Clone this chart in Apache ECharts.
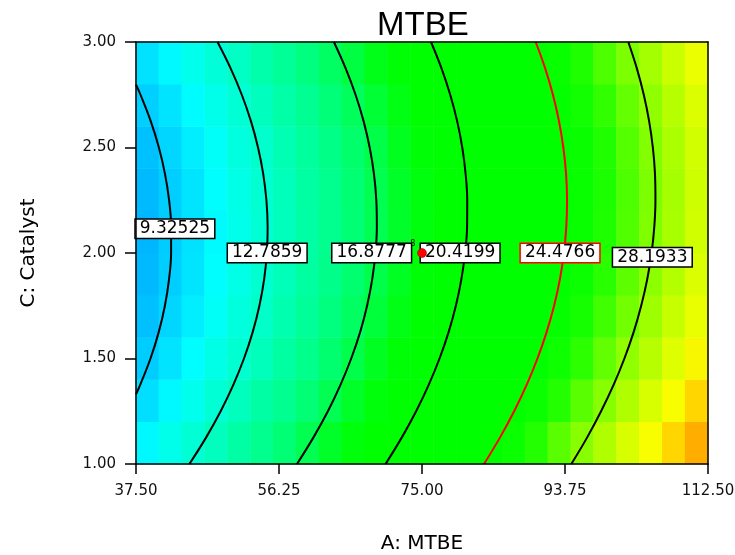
<!DOCTYPE html>
<html><head><meta charset="utf-8">
<script src="https://cdn.jsdelivr.net/npm/echarts@6/dist/echarts.min.js"></script>
<style>html,body{margin:0;padding:0;background:#fff}#c{width:735px;height:555px}</style>
</head><body><div id="c"></div>
<script>
// ---- data ----
const chartTitle = 'MTBE';
const xName = 'A: MTBE';
const yName = 'C: Catalyst';
const xTicks = [37.5, 56.25, 75, 93.75, 112.5];
const xTickLabels = ['37.50', '56.25', '75.00', '93.75', '112.50'];
const yTicks = [1, 1.5, 2, 2.5, 3];
const yTickLabels = ['1.00', '1.50', '2.00', '2.50', '3.00'];

// colour field: cell centres (A, C) and estimated response in each cell
const cellA = [39,42,45,48,51,54,57,60,63,66,69,72,75,78,81,84,87,90,93,96,99,102,105,108,111];
const cellC = [1.1,1.3,1.5,1.7,1.9,2.1,2.3,2.5,2.7,2.9];
const responseGrid = [
 [10.80,11.63,12.46,13.31,14.16,15.02,15.89,16.77,17.66,18.56,19.46,20.38,21.30,22.23,23.17,24.12,25.08,26.05,27.03,28.01,29.01,30.01,31.02,32.04,33.07],
 [9.97,10.78,11.61,12.45,13.29,14.15,15.01,15.88,16.76,17.65,18.55,19.45,20.37,21.29,22.23,23.17,24.12,25.08,26.05,27.03,28.01,29.01,30.01,31.02,32.05],
 [9.31,10.12,10.94,11.77,12.61,13.45,14.31,15.17,16.04,16.92,17.81,18.71,19.62,20.54,21.46,22.40,23.34,24.29,25.25,26.22,27.20,28.19,29.18,30.19,31.20],
 [8.85,9.65,10.46,11.28,12.11,12.95,13.80,14.65,15.52,16.39,17.27,18.16,19.06,19.97,20.89,21.81,22.75,23.69,24.64,25.60,26.58,27.55,28.54,29.54,30.54],
 [8.57,9.37,10.17,10.98,11.81,12.63,13.47,14.32,15.18,16.04,16.92,17.80,18.69,19.59,20.50,21.42,22.35,23.28,24.23,25.18,26.14,27.11,28.09,29.08,30.08],
 [8.49,9.28,10.07,10.88,11.69,12.51,13.34,14.18,15.03,15.89,16.75,17.63,18.51,19.40,20.30,21.21,22.13,23.06,24.00,24.94,25.90,26.86,27.83,28.81,29.80],
 [8.60,9.37,10.16,10.96,11.76,12.58,13.40,14.23,15.07,15.92,16.78,17.64,18.52,19.40,20.30,21.20,22.11,23.03,23.96,24.90,25.84,26.80,27.76,28.73,29.72],
 [8.89,9.66,10.44,11.23,12.03,12.83,13.65,14.47,15.30,16.14,16.99,17.85,18.72,19.60,20.48,21.38,22.28,23.19,24.11,25.04,25.98,26.93,27.88,28.85,29.82],
 [9.38,10.14,10.91,11.69,12.48,13.28,14.09,14.90,15.73,16.56,17.40,18.25,19.11,19.98,20.86,21.74,22.64,23.54,24.45,25.37,26.31,27.24,28.19,29.15,30.11],
 [10.05,10.81,11.57,12.34,13.13,13.91,14.71,15.52,16.34,17.16,18.00,18.84,19.69,20.55,21.42,22.30,23.19,24.08,24.99,25.90,26.82,27.75,28.69,29.64,30.60]
];
const colorMin = 8, colorMax = 34;
const colorStops = ['#00aaff','#00c4ff','#00e0ff','#00ffff','#00ffe0','#00ffc8','#00ffa8','#00ff90','#00ff70','#00ff48','#00ff18','#00ff00','#00ff00','#00ff00','#00ff00','#00ff00','#00ff00','#08ff00','#20ff00','#58ff00','#88ff00','#b0ff00','#d8ff00','#f8ff00','#ffd800','#ffb000','#ff9000'];

// contour lines: A position at C steps of 0.125 (top to bottom)
const contourLevels = ['9.32525', '12.7859', '16.8777', '20.4199', '24.4766', '28.1933'];
const contourC = [3,2.875,2.75,2.625,2.5,2.375,2.25,2.125,2,1.875,1.75,1.625,1.5,1.375,1.25,1.125,1];
const contour1 = [[37.5,2.798],[38.09,2.75],[39.43,2.625],[40.5,2.5],[41.3,2.375],[41.84,2.25],[42.1,2.125],[42.1,2.0],[41.83,1.875],[41.29,1.75],[40.48,1.625],[39.4,1.5],[38.05,1.375],[37.5,1.33]];
const contour2A = [48.19,49.91,51.37,52.57,53.5,54.18,54.6,54.76,54.66,54.3,53.68,52.8,51.66,50.26,48.6,46.68,44.5];
const contour3A = [63.45,64.99,66.29,67.34,68.14,68.7,69.01,69.08,68.9,68.47,67.8,66.89,65.72,64.31,62.66,60.75,58.61];
const contour4A = [76.18,77.56,78.7,79.61,80.28,80.72,80.93,80.91,80.65,80.16,79.44,78.49,77.3,75.88,74.23,72.34,70.22];
const contour5A = [89.91,91.15,92.17,92.96,93.53,93.89,94.02,93.92,93.61,93.08,92.32,91.34,90.14,88.72,87.08,85.22,83.13];
const contour6A = [102.05,103.17,104.08,104.78,105.27,105.55,105.61,105.46,105.1,104.53,103.74,102.75,101.54,100.12,98.48,96.64,94.58];
const contourColors = ['#000','#000','#000','#000','#ff0000','#000'];
const labelA = [42.6, 54.7, 68.4, 80.0, 93.1, 105.2];
const labelC = [2.115, 2.0, 2.0, 2.0, 2.0, 1.98];

const centerPoint = [75, 2.0];
const centerCount = '8';

// ---- chart ----
const chart = echarts.init(document.getElementById('c'), null, {renderer: 'canvas'});
const FONT = 'DejaVu Sans';
const G = {left: 136, top: 42, width: 572, height: 422, outerBoundsMode: 'none', containLabel: false};

const heatData = [];
responseGrid.forEach((row, j) => row.forEach((v, i) => heatData.push([i, j, v])));

const contourLines = [contour1].concat([contour2A, contour3A, contour4A, contour5A, contour6A].map(arr => arr.map((a, k) => [a, contourC[k]])));

function fmt(list, labels) { return v => { const k = list.findIndex(t => Math.abs(t - v) < 1e-6); return k >= 0 ? labels[k] : ''; }; }

const series = [{
  type: 'heatmap', xAxisIndex: 0, yAxisIndex: 0, data: heatData, z: 1, silent: true,
  itemStyle: {borderWidth: 0}, emphasis: {disabled: true}, progressive: 0
}];
contourLines.forEach((pts, i) => series.push({
  type: 'line', xAxisIndex: 1, yAxisIndex: 1, data: pts, smooth: 0.4, symbol: 'none',
  lineStyle: {color: contourColors[i], width: 2}, z: 3, silent: true, clip: true, animation: false
}));
series.push({
  type: 'scatter', xAxisIndex: 1, yAxisIndex: 1, symbolSize: 1, itemStyle: {color: 'rgba(0,0,0,0)', opacity: 1}, z: 5, silent: true,
  data: contourLevels.map((t, i) => ({
    value: [labelA[i], labelC[i]],
    label: {show: true, position: 'inside', formatter: t, color: '#000', fontFamily: FONT, fontSize: 17,
      backgroundColor: '#fff', borderColor: contourColors[i], borderWidth: 1.5, padding: [1, 4, 0, 4]}
  }))
});
series.push({
  type: 'scatter', xAxisIndex: 1, yAxisIndex: 1, symbol: 'circle', symbolSize: 9, z: 6, silent: true,
  itemStyle: {color: '#ff0000', borderColor: '#800000', borderWidth: 0.5, opacity: 1},
  data: [{value: centerPoint, label: {show: true, formatter: centerCount, position: 'left', distance: 2, offset: [0, -9], fontSize: 8, color: '#000', fontFamily: FONT}}]
});

const visAxisCommon = {
  z: 10, axisLine: {show: true, lineStyle: {color: '#000', width: 1.5}}, splitLine: {show: false}
};

chart.setOption({
  animation: false,
  backgroundColor: '#fff',
  title: {text: chartTitle, left: 372, top: 4, textStyle: {fontFamily: 'Liberation Sans', fontSize: 33, fontWeight: 'normal', color: '#000'}},
  grid: [Object.assign({show: false}, G), Object.assign({show: false}, G)],
  visualMap: {show: false, type: 'continuous', min: colorMin, max: colorMax, seriesIndex: 0, inRange: {color: colorStops}},
  xAxis: [
    {type: 'category', gridIndex: 0, data: cellA, show: false},
    Object.assign({}, visAxisCommon, {type: 'value', gridIndex: 1, position: 'bottom', min: 37.5, max: 112.5, interval: 18.75,
      axisTick: {show: true, length: 10, lineStyle: {color: '#000', width: 1.5}},
      axisLabel: {margin: 20, fontFamily: FONT, fontSize: 15, color: '#111', formatter: fmt(xTicks, xTickLabels)},
      name: xName, nameLocation: 'middle', nameGap: 70, nameTextStyle: {fontFamily: FONT, fontSize: 20, color: '#000'}}),
    Object.assign({}, visAxisCommon, {type: 'value', gridIndex: 1, position: 'top', min: 37.5, max: 112.5, interval: 18.75,
      axisTick: {show: false}, axisLabel: {show: false}})
  ],
  yAxis: [
    {type: 'category', gridIndex: 0, data: cellC, show: false},
    Object.assign({}, visAxisCommon, {type: 'value', gridIndex: 1, position: 'left', min: 1, max: 3, interval: 0.5,
      axisTick: {show: true, length: 11, lineStyle: {color: '#000', width: 1.5}},
      axisLabel: {margin: 20, fontFamily: FONT, fontSize: 15, color: '#111', formatter: fmt(yTicks, yTickLabels)},
      name: yName, nameLocation: 'middle', nameGap: 97, nameTextStyle: {fontFamily: FONT, fontSize: 20, color: '#000'}}),
    Object.assign({}, visAxisCommon, {type: 'value', gridIndex: 1, position: 'right', min: 1, max: 3, interval: 0.5,
      axisTick: {show: false}, axisLabel: {show: false}})
  ],
  series: series
});
</script></body></html>
